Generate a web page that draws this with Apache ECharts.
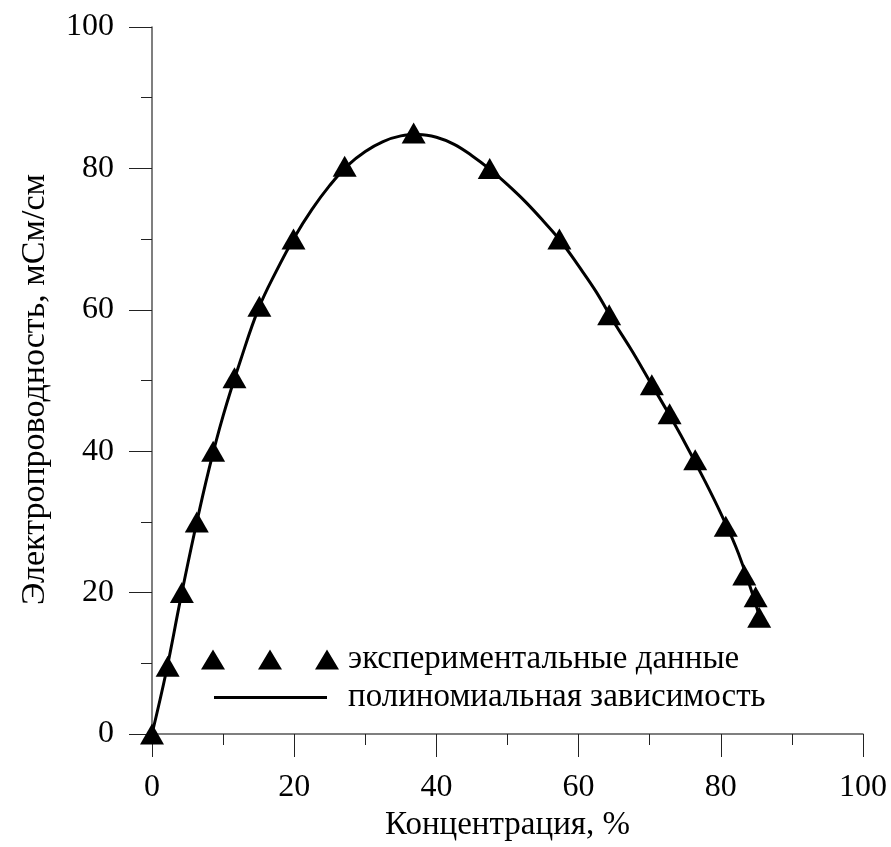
<!DOCTYPE html>
<html>
<head>
<meta charset="utf-8">
<script src="https://cdn.jsdelivr.net/npm/echarts@6/dist/echarts.min.js"></script>
<style>
  html, body { margin: 0; padding: 0; background: #fff; }
  #chart { width: 891px; height: 847px; }
</style>
</head>
<body>
<div id="chart"></div>
<script>
// experimental points (concentration %, conductivity mS/cm)
const expX = [0, 2.2, 4.2, 6.3, 8.6, 11.6, 15.1, 19.9, 27.1, 36.8, 47.5, 57.3, 64.3, 70.3, 72.8, 76.4, 80.7, 83.3, 84.9, 85.4];
const expY = [0, 9.6, 20, 30, 40, 50.4, 60.5, 70, 80.3, 85, 80, 70, 59.3, 49.4, 45.3, 38.8, 29.4, 22.5, 19.4, 16.5];

// polynomial fit
const fitX = [0, 2, 4, 6, 8, 10, 12.5, 15, 17.5, 20, 22.5, 25, 27.5, 30, 32.5, 35, 37.5, 40, 42.5, 45, 47.5, 50, 52.5, 55, 57.5, 60, 62.5, 65, 67.5, 70, 72.5, 75, 77.5, 80, 82.5, 85.4];
const fitY = [0, 8.8, 19, 28.6, 37.4, 45, 53, 60.2, 65.5, 70.2, 74.2, 77.6, 80.4, 82.4, 83.8, 84.6, 84.8, 84.4, 83.4, 81.8, 79.9, 77.7, 75.3, 72.6, 69.7, 66.2, 62.5, 58.2, 54.2, 49.9, 45.6, 41.1, 36.3, 31.2, 25.5, 16.8];

const expName = "экспериментальные данные";
const fitName = "полиномиальная зависимость";

const FONT = '"Liberation Serif", "Times New Roman", serif';
const TRI3 = "path://M0,20 L12,0 L24,20 Z M57,20 L69,0 L81,20 Z M114,20 L126,0 L138,20 Z";

const chart = echarts.init(document.getElementById("chart"));

const axisCommon = {
  type: "value",
  min: 0,
  max: 100,
  interval: 20,
  minorTick: { show: true, splitNumber: 2, length: 11, lineStyle: { color: "#222", width: 1 } },
  axisTick: { show: true, inside: false, length: 23, lineStyle: { color: "#222", width: 1 } },
  axisLine: { show: true, onZero: false, lineStyle: { color: "#555", width: 1.5 } },
  splitLine: { show: false },
  minorSplitLine: { show: false },
  axisLabel: { color: "#000", fontFamily: FONT, fontSize: 32, margin: 38 },
  nameLocation: "middle",
};

chart.setOption({
  animation: false,
  backgroundColor: "#fff",
  grid: { left: 152, right: 28, top: 27, bottom: 111, containLabel: false },
  xAxis: Object.assign({}, axisCommon, {
    name: "Концентрация, %",
    nameGap: 75,
    nameTextStyle: { color: "#000", fontFamily: FONT, fontSize: 33 },
  }),
  yAxis: Object.assign({}, axisCommon, {
    name: "Электропроводность, мСм/см",
    nameGap: 100,
    nameTextStyle: { color: "#000", fontFamily: FONT, fontSize: 34, padding: [0, 18, 0, 0] },
  }),
  legend: [
    {
      data: [{ name: expName, icon: TRI3 }],
      left: 201,
      top: 643,
      padding: 0,
      itemWidth: 138,
      itemHeight: 20,
      textStyle: { color: "#000", fontFamily: FONT, fontSize: 33, padding: [0, 0, 0, 4] },
      selectedMode: false,
    },
    {
      data: [{ name: fitName, icon: "rect" }],
      left: 214,
      top: 681,
      padding: 0,
      itemWidth: 113,
      itemHeight: 3,
      textStyle: { color: "#000", fontFamily: FONT, fontSize: 33, padding: [0, 0, 0, 16] },
      selectedMode: false,
    },
  ],
  series: [
    {
      name: fitName,
      type: "line",
      data: fitX.map((x, i) => [x, fitY[i]]),
      smooth: 0.4,
      showSymbol: false,
      lineStyle: { color: "#000", width: 3 },
      itemStyle: { color: "#000" },
      z: 2,
    },
    {
      name: expName,
      type: "scatter",
      data: expX.map((x, i) => [x, expY[i]]),
      symbol: "triangle",
      symbolSize: [24, 21],
      itemStyle: { color: "#000", opacity: 1 },
      z: 3,
    },
  ],
});
</script>
</body>
</html>
